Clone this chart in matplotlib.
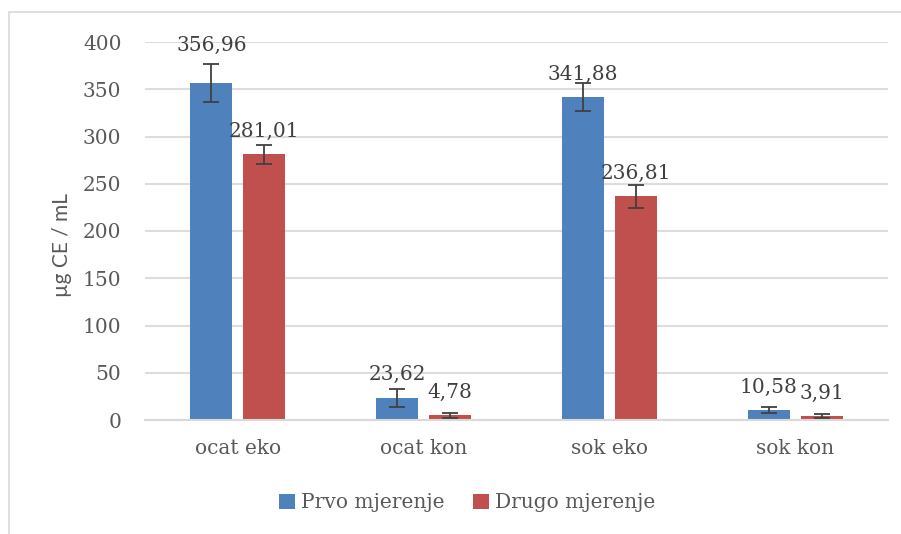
import numpy as np
import matplotlib.pyplot as plt
from matplotlib.patches import Rectangle

# Podaci
kategorije = ['ocat eko', 'ocat kon', 'sok eko', 'sok kon']
prvo = [356.96, 23.62, 341.88, 10.58]
drugo = [281.01, 4.78, 236.81, 3.91]
prvo_err = [20, 9.5, 15, 3]
drugo_err = [10.5, 2.8, 12, 2.2]
prvo_lab = ['356,96', '23,62', '341,88', '10,58']
drugo_lab = ['281,01', '4,78', '236,81', '3,91']

siva = '#595959'
plava = '#4F81BD'
crvena = '#C0504D'

plt.rcParams['font.family'] = ['DejaVu Serif']

fig = plt.figure(figsize=(9.01, 5.34), dpi=100)
ax = fig.add_axes([145 / 901, 114 / 534, 743 / 901, 378 / 534])

# okvir grafikona
fig.patches.append(Rectangle((9 / 901, -0.1), 1.2, (534 - 12) / 534 + 0.1,
                             transform=fig.transFigure, fill=False,
                             edgecolor='#D9D9D9', linewidth=1.2))

x = np.arange(len(kategorije))
w = 0.226
pomak = 0.143
ekw = dict(ecolor='#404040', elinewidth=1.3, capsize=6, capthick=1.3)

b1 = ax.bar(x - pomak, prvo, w, color=plava, yerr=prvo_err, error_kw=ekw,
            label='Prvo mjerenje', zorder=2)
b2 = ax.bar(x + pomak, drugo, w, color=crvena, yerr=drugo_err, error_kw=ekw,
            label='Drugo mjerenje', zorder=2)

# oznake vrijednosti
for i in range(len(kategorije)):
    pad1 = 23 if i == 0 else 12.5
    ax.annotate(prvo_lab[i], (x[i] - pomak, prvo[i]), xytext=(0, pad1),
                textcoords='offset points', ha='center', va='baseline',
                fontsize=14.5, color='#404040', zorder=4)
    ax.annotate(drugo_lab[i], (x[i] + pomak, drugo[i]), xytext=(0, 12.5),
                textcoords='offset points', ha='center', va='baseline',
                fontsize=14.5, color='#404040', zorder=4)

ax.set_xlim(-0.5, 3.5)
ax.set_ylim(0, 400)
ax.set_yticks(np.arange(0, 401, 50))
ax.set_xticks(x)
ax.set_xticklabels(kategorije)
ax.yaxis.grid(True, color='#DDDDDD', linewidth=1.5, zorder=0)
ax.set_axisbelow(True)
for s in ['top', 'right', 'left']:
    ax.spines[s].set_visible(False)
ax.spines['bottom'].set_color('#D9D9D9')
ax.spines['bottom'].set_linewidth(1.5)
ax.tick_params(axis='both', length=0, labelsize=14.5, colors=siva)
ax.tick_params(axis='y', pad=17)
ax.tick_params(axis='x', pad=14)

fig.text(62 / 901, 1 - 245 / 534, 'µg CE / mL', rotation=90, ha='center',
         va='center', fontsize=15, color=siva, family='Lato')

ax.legend(loc='center', bbox_to_anchor=(467 / 901, 1 - 503 / 534),
          bbox_transform=fig.transFigure, ncol=2, frameon=False,
          fontsize=14.5, labelcolor=siva, handlelength=0.8, handleheight=0.8,
          handletextpad=0.3, columnspacing=1.4)

fig.savefig('out.png', dpi=100)
